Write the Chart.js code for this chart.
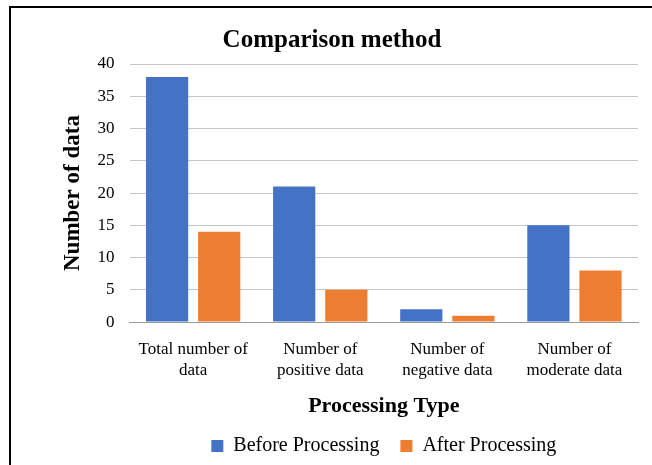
<!DOCTYPE html>
<html>
<head>
<meta charset="utf-8">
<script src="https://cdn.jsdelivr.net/npm/chart.js@4/dist/chart.umd.min.js"></script>
<style>
  html, body { margin: 0; padding: 0; background: #fff; }
  #wrap { width: 652px; height: 465px; position: relative; }
</style>
</head>
<body>
<div id="wrap"><canvas id="c" width="652" height="465"></canvas></div>
<script>
const categories = [
  ['Total number of', 'data'],
  ['Number of', 'positive data'],
  ['Number of', 'negative data'],
  ['Number of', 'moderate data']
];
const beforeProcessing = [38, 21, 2, 15];
const afterProcessing = [14, 5, 1, 8];
const seriesNames = ['Before Processing', 'After Processing'];
const yTicks = { min: 0, max: 40, step: 5 };

const SERIF = "'Liberation Serif', 'Times New Roman', serif";

// Frame lines along the top and left edge of the figure
const framePlugin = {
  id: 'frame',
  afterDraw(chart) {
    const ctx = chart.ctx;
    ctx.save();
    ctx.strokeStyle = '#000';
    ctx.lineWidth = 2;
    ctx.beginPath();
    ctx.moveTo(10, 465);
    ctx.lineTo(10, 7);
    ctx.lineTo(652, 7);
    ctx.stroke();
    ctx.restore();
  }
};

new Chart(document.getElementById('c'), {
  type: 'bar',
  data: {
    labels: categories,
    datasets: [
      { label: seriesNames[0], data: beforeProcessing, backgroundColor: '#4472C4' },
      { label: seriesNames[1], data: afterProcessing, backgroundColor: '#ED7D31' }
    ]
  },
  options: {
    responsive: false,
    animation: false,
    devicePixelRatio: 1,
    layout: { padding: { left: 26, right: 14, top: 10, bottom: -1 } },
    datasets: { bar: { categoryPercentage: 0.82, barPercentage: 0.81 } },
    plugins: {
      title: {
        display: true,
        text: 'Comparison method',
        color: '#000',
        font: { family: SERIF, size: 25, weight: 'bold' },
        padding: { top: 16, bottom: 8 }
      },
      legend: {
        position: 'bottom',
        fullSize: false,
        labels: {
          color: '#000',
          font: { family: SERIF, size: 20 },
          boxWidth: 12,
          boxHeight: 12,
          padding: 21
        }
      },
      tooltip: { enabled: false }
    },
    scales: {
      x: {
        grid: { display: false, drawTicks: false },
        border: { display: true, color: '#9a9a9a', width: 1 },
        ticks: { color: '#000', font: { family: SERIF, size: 17, lineHeight: 1.25 }, padding: 17, maxRotation: 0 },
        title: {
          display: true,
          text: 'Processing Type',
          color: '#000',
          font: { family: SERIF, size: 22, weight: 'bold' },
          padding: { top: -5, bottom: -5 }
        }
      },
      y: {
        min: yTicks.min,
        max: yTicks.max,
        grid: { color: '#c6c6c6', drawTicks: false },
        border: { display: false },
        ticks: { stepSize: yTicks.step, color: '#000', font: { family: SERIF, size: 17 }, padding: 15 },
        title: {
          display: true,
          text: 'Number of data',
          color: '#000',
          font: { family: SERIF, size: 23, weight: 'bold' },
          padding: { top: 33, bottom: -4 }
        }
      }
    }
  },
  plugins: [framePlugin]
});
</script>
</body>
</html>
